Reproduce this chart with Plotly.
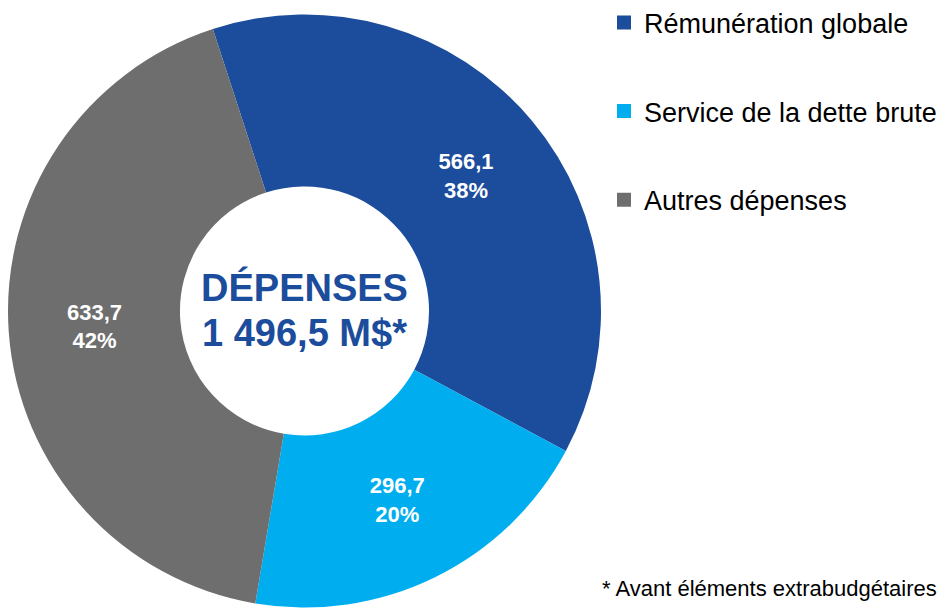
import plotly.graph_objects as go

# Dépenses (M$)
categories = ['Rémunération globale', 'Service de la dette brute', 'Autres dépenses']
values = [566.1, 296.7, 633.7]
colors = ['#1C4C9C', '#00AEEF', '#6E6E6E']

center_title = 'DÉPENSES'
center_total = '1 496,5 M$*'
footnote = '* Avant éléments extrabudgétaires'

# the page body adds an 8px margin, so the figure is drawn 8px smaller
W, H = 937, 600

fig = go.Figure()

fig.add_trace(go.Pie(
    labels=categories,
    values=values,
    sort=False,
    direction='clockwise',
    rotation=-18,
    hole=0.42,
    marker=dict(colors=colors, line=dict(width=0)),
    texttemplate='%{value:.1f}<br>%{percent:.0%}',
    textposition='inside',
    insidetextorientation='horizontal',
    textfont=dict(family='Liberation Sans', size=22, color='white', weight='bold'),
    hoverinfo='label+value+percent',
    domain=dict(x=[0.0, 593 / W], y=[1 - 599.5 / H, 1 - 6.5 / H]),
    showlegend=False,
))

# legend entries (square markers with wide spacing)
for name, col in zip(categories, colors):
    fig.add_trace(go.Scatter(
        x=[None], y=[None], mode='markers', name=name,
        legendgroup=name,
        marker=dict(symbol='square', size=14, color=col),
    ))

# centre text, one annotation per line
for txt, yc in [(center_title, 279), (center_total, 325)]:
    fig.add_annotation(
        text='<b>' + txt + '</b>',
        x=296.5 / W, y=1 - yc / H, xref='paper', yref='paper',
        xanchor='center', yanchor='middle',
        showarrow=False, align='center',
        font=dict(family='Liberation Sans', size=38, color='#1C4C9C'),
    )

fig.add_annotation(
    text=footnote,
    x=931 / W, y=1 - 580 / H, xref='paper', yref='paper',
    xanchor='right', yanchor='middle', showarrow=False,
    font=dict(family='Liberation Sans', size=22, color='black'),
)

fig.update_layout(
    width=W, height=H,
    margin=dict(l=0, r=0, t=0, b=0, autoexpand=False),
    paper_bgcolor='white', plot_bgcolor='white',
    separators=', ',
    xaxis=dict(visible=False), yaxis=dict(visible=False),
    legend=dict(
        x=596 / W, y=1.016, xanchor='left', yanchor='top',
        font=dict(family='Liberation Sans', size=27, color='black'),
        tracegroupgap=50.5, itemwidth=30,
        bgcolor='rgba(0,0,0,0)',
    ),
)

fig.write_html('out.html')
